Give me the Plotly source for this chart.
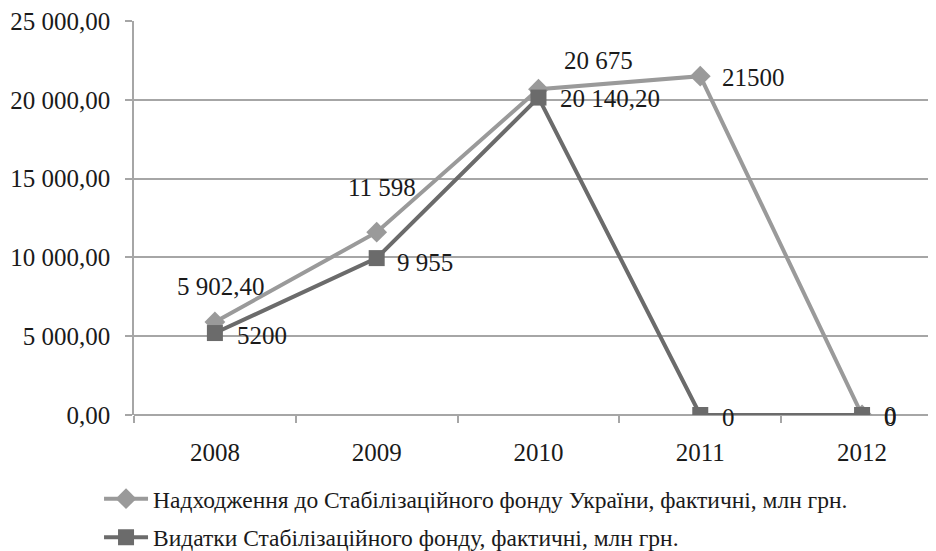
import plotly.graph_objects as go

years = ["2008", "2009", "2010", "2011", "2012"]
income = [5902.40, 11598, 20675, 21500, 0]
spend = [5200, 9955, 20140.20, 0, 0]
income_labels = ["5 902,40", "11 598", "20 675", "21500", "0"]
spend_labels = ["5200", "9 955", "20 140,20", "0", "0"]
income_name = "Надходження до Стабілізаційного фонду України, фактичні, млн грн."
spend_name = "Видатки Стабілізаційного фонду, фактичні, млн грн."

FONT = "Liberation Serif"
LIGHT = "#9a9a9a"
DARK = "#6b6b6b"
GRID = "#a6a6a6"
TXT = "#1a1a1a"

fig = go.Figure()
fig.add_trace(go.Scatter(
    x=years, y=income, name=income_name, mode="lines+markers",
    line=dict(color=LIGHT, width=4),
    marker=dict(symbol="diamond", size=16, color=LIGHT),
    legendgroup="a",
))
fig.add_trace(go.Scatter(
    x=years, y=spend, name=spend_name, mode="lines+markers",
    line=dict(color=DARK, width=4),
    marker=dict(symbol="square", size=16, color=DARK),
    legendgroup="b",
))

# label placement offsets (pixels)
inc_off = [("center", 6, 35), ("center", 5, 45), ("center", 60, 29), ("left", 20, -1), ("left", 20, 0)]
sp_off = [("left", 20, -2), ("left", 18, -4), ("left", 20, -1), ("left", 20, -2), ("left", 20, -2)]

annots = []
for i, (v, t, (xa, dx, dy)) in enumerate(zip(income, income_labels, inc_off)):
    annots.append(dict(x=i, y=v, xref="x", yref="y", text=t, showarrow=False,
                       xanchor=xa, yanchor="middle", xshift=dx, yshift=dy,
                       font=dict(size=25, color=TXT)))
for i, (v, t, (xa, dx, dy)) in enumerate(zip(spend, spend_labels, sp_off)):
    annots.append(dict(x=i, y=v, xref="x", yref="y", text=t, showarrow=False,
                       xanchor=xa, yanchor="middle", xshift=dx, yshift=dy,
                       font=dict(size=25, color=TXT)))

# page body has an 8px margin, so the figure is offset by (8, 8)
fig.update_layout(
    width=928, height=543,
    margin=dict(l=126, r=0, t=13, b=136, autoexpand=False),
    paper_bgcolor="white", plot_bgcolor="white",
    font=dict(family=FONT, size=25, color=TXT),
    separators=", ",
    showlegend=True,
    legend=dict(x=-0.0436, y=-0.157, xanchor="left", yanchor="top",
                orientation="v", itemwidth=44, tracegroupgap=5,
                font=dict(family=FONT, size=23.5, color=TXT),
                bgcolor="rgba(0,0,0,0)"),
    annotations=annots,
)
fig.update_xaxes(
    type="category", range=[-0.5, 4.457], automargin=False,
    showgrid=False, showline=False, zeroline=False,
    tickson="boundaries", ticks="outside", ticklen=7, tickcolor=GRID, tickwidth=1.5,
    ticklabelstandoff=20,
)
fig.update_yaxes(
    range=[0, 25000], tickvals=[0, 5000, 10000, 15000, 20000, 25000], tickformat=",.2f",
    automargin=False, ticklabeloverflow="allow",
    showgrid=True, gridcolor=GRID, gridwidth=1.5,
    zeroline=True, zerolinecolor=GRID, zerolinewidth=1.5,
    showline=True, linecolor=GRID, linewidth=1.5,
    ticks="outside", ticklen=7, tickcolor=GRID, tickwidth=1.5,
    ticklabelstandoff=10,
)

fig.write_html("out.html")
